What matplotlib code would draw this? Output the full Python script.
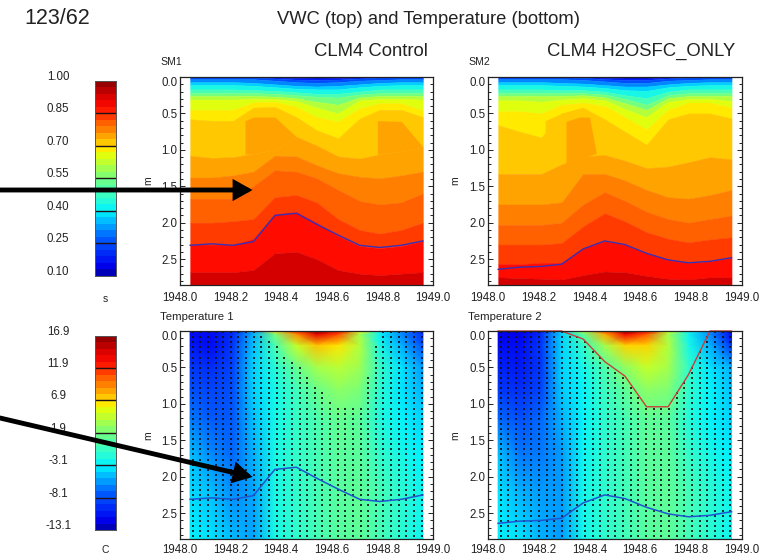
import numpy as np
import matplotlib
matplotlib.use("Agg")
import matplotlib.pyplot as plt
from matplotlib.colors import LinearSegmentedColormap, Normalize
from matplotlib.patches import FancyArrowPatch
from matplotlib.ticker import MultipleLocator

plt.rcParams['font.family'] = ['Liberation Sans', 'DejaVu Sans']
W, H = 776, 555
INK = '#222222'

# ---- shared coordinates ----
MONTHS = [1948.04, 1948.125, 1948.21, 1948.29, 1948.375, 1948.46,
          1948.54, 1948.625, 1948.71, 1948.79, 1948.875, 1948.96]
DEPTH_ROWS = [0.0, 0.05, 0.2, 0.5, 0.8, 1.2, 1.7, 2.2, 2.855]

# ---- soil moisture: depth where each level is reached, by month ----
SM_LEVELS = [0.16, 0.22, 0.28, 0.34, 0.40, 0.46, 0.52, 0.58, 0.64, 0.67,
             0.70, 0.73, 0.76, 0.79, 0.82, 0.85, 0.91]
S1_016 = [0, 0, 0, 0, .005, .015, .02, .015, .005, 0, 0, 0]
S1_022 = [0, 0, 0, .005, .02, .035, .04, .035, .02, .005, 0, 0]
S1_028 = [.03, .03, .03, .03, .05, .07, .08, .07, .05, .04, .03, .03]
S1_034 = [.07, .07, .07, .08, .10, .12, .13, .12, .10, .08, .07, .07]
S1_040 = [.11, .11, .11, .12, .14, .16, .17, .17, .14, .12, .11, .11]
S1_046 = [.17, .17, .17, .18, .19, .21, .23, .23, .20, .17, .17, .17]
S1_052 = [.22, .22, .22, .22, .23, .25, .27, .28, .24, .22, .22, .22]
S1_058 = [.26, .26, .26, .26, .27, .29, .34, .38, .28, .26, .26, .26]
S1_064 = [.31, .31, .31, .30, .30, .33, .42, .50, .32, .30, .30, .31]
S1_067 = [.45, .45, .45, .35, .34, .41, .55, .61, .43, .36, .36, .46]
S1_070 = [.58, .60, .60, .42, .41, .55, .73, .84, .57, .45, .45, .55]
S1_073 = [1.08, 1.11, 1.10, 1.05, 1.00, .82, .94, 1.09, 1.12, 1.06, 1.02, .96]
S1_076 = [1.38, 1.38, 1.35, 1.30, 1.08, 1.09, 1.21, 1.32, 1.37, 1.39, 1.35, 1.30]
S1_079 = [1.67, 1.67, 1.67, 1.50, 1.28, 1.30, 1.39, 1.55, 1.70, 1.75, 1.72, 1.60]
S1_082 = [2.00, 2.00, 1.98, 1.95, 1.65, 1.62, 1.72, 1.95, 2.10, 2.15, 2.10, 2.00]
S1_085 = [2.30, 2.30, 2.30, 2.22, 1.88, 1.85, 2.00, 2.18, 2.32, 2.35, 2.32, 2.25]
S1_091 = [2.68, 2.68, 2.68, 2.65, 2.42, 2.40, 2.50, 2.65, 2.70, 2.72, 2.70, 2.68]

S2_016 = [0, 0, 0, 0, 0, .01, .02, .02, .005, 0, 0, 0]
S2_022 = [0, 0, 0, .005, .01, .03, .04, .04, .02, .005, 0, 0]
S2_028 = [.03, .03, .03, .03, .04, .06, .08, .08, .05, .04, .03, .03]
S2_034 = [.07, .07, .07, .08, .09, .11, .13, .13, .10, .08, .07, .07]
S2_040 = [.11, .11, .11, .12, .13, .15, .18, .19, .14, .12, .11, .11]
S2_046 = [.17, .17, .17, .18, .18, .20, .25, .29, .20, .17, .17, .17]
S2_052 = [.22, .22, .22, .22, .22, .24, .30, .38, .25, .22, .22, .22]
S2_058 = [.26, .26, .26, .26, .25, .28, .36, .45, .29, .26, .26, .26]
S2_064 = [.32, .32, .34, .31, .29, .32, .44, .55, .34, .30, .30, .33]
S2_067 = [.47, .47, .50, .38, .35, .40, .55, .72, .45, .35, .35, .42]
S2_070 = [.66, .75, .83, .50, .42, .58, .75, .93, .58, .50, .50, .57]
S2_073 = [1.33, 1.33, 1.33, 1.20, 1.09, 1.07, 1.15, 1.25, 1.23, 1.17, 1.10, 1.13]
S2_076 = [1.75, 1.75, 1.75, 1.72, 1.33, 1.33, 1.42, 1.55, 1.65, 1.67, 1.62, 1.55]
S2_079 = [2.03, 2.03, 2.03, 2.00, 1.75, 1.58, 1.70, 1.85, 1.95, 2.00, 1.95, 1.90]
S2_082 = [2.30, 2.30, 2.30, 2.28, 2.05, 1.87, 1.98, 2.13, 2.22, 2.27, 2.23, 2.20]
S2_085 = [2.57, 2.57, 2.55, 2.55, 2.35, 2.25, 2.30, 2.42, 2.50, 2.55, 2.53, 2.48]
S2_091 = [2.75, 2.76, 2.77, 2.78, 2.72, 2.67, 2.68, 2.73, 2.77, 2.78, 2.75, 2.75]

SM1_BOUNDS = [S1_016, S1_022, S1_028, S1_034, S1_040, S1_046, S1_052, S1_058, S1_064,
              S1_067, S1_070, S1_073, S1_076, S1_079, S1_082, S1_085, S1_091]
SM2_BOUNDS = [S2_016, S2_022, S2_028, S2_034, S2_040, S2_046, S2_052, S2_058, S2_064,
              S2_067, S2_070, S2_073, S2_076, S2_079, S2_082, S2_085, S2_091]

# ---- patches of wetter soil with sharp sides: x, top depth, bottom depth, value ----
B1A_X = [1948.257, 1948.29, 1948.375, 1948.46]
B1A_TOP = [.60, .55, .55, .82]
B1A_BOT = [1.06, 1.05, 1.00, .82]
B1B_X = [1948.78, 1948.79, 1948.875, 1948.96]
B1B_TOP = [.60, .60, .61, .96]
B1B_BOT = [1.06, 1.06, 1.02, .96]
B2A_X = [1948.3075, 1948.36, 1948.40, 1948.426]
B2A_TOP = [.61, .55, .55, 1.03]
B2A_BOT = [1.20, 1.12, 1.08, 1.05]
B2B_X = [1948.225, 1948.29, 1948.375]
B2B_TOP = [.60, .50, .42]
B2B_BOT = [.85, .85, .85]
SM1_PATCHES = [(B1A_X, B1A_TOP, B1A_BOT, .745), (B1B_X, B1B_TOP, B1B_BOT, .745)]
SM2_PATCHES = [(B2B_X, B2B_TOP, B2B_BOT, .715), (B2A_X, B2A_TOP, B2A_BOT, .745)]

# ---- soil temperature by depth row ----
T1_D000 = [-11, -11, -10, -5.5, 6.9, 12, 16.5, 13, 6, -3, -6, -10]
T1_D005 = [-11, -11, -9.5, -5, 1.9, 9, 14, 11, 3.5, -3, -6, -9.5]
T1_D020 = [-10.5, -11, -9, -4.5, 0, 4.5, 7.5, 6.5, 4, -2.2, -5, -8]
T1_D050 = [-9, -9.5, -8.5, -4, -1.5, 1.2, 3.5, 4.2, 3.2, -.8, -3.5, -5.5]
T1_D080 = [-8, -8.5, -8, -4, -2.3, -.4, 1.5, 2.8, 2.2, -1.3, -3.5, -5]
T1_D120 = [-6.5, -7.5, -7.5, -4.5, -2.3, -.8, .1, 1.3, .9, -1.8, -3, -4]
T1_D170 = [-4.5, -6, -7, -5, -2.2, -1, -.2, .8, .8, -1, -2.2, -3.2]
T1_D220 = [-3.8, -4.6, -6, -5.3, -2, -1.1, -.2, .7, 1, -.2, -1.3, -2.5]
T1_D285 = [-3, -3.5, -4.7, -5.3, -2, -1.1, -.2, .7, 1, -.2, -1.3, -2.5]

T2_D000 = [-12, -12, -10, -4, 4, 11, 16.5, 13.5, 5, -2.5, -6, -11.5]
T2_D005 = [-11.5, -11.5, -9.5, -4, 1, 8, 13.5, 10.5, 3.5, -2.5, -6, -11]
T2_D020 = [-11, -11, -9, -4, -1, 3.5, 7, 7, 4, -2, -5, -9]
T2_D050 = [-10, -10.5, -9, -4, -2.3, .2, 2.8, 4.5, 3.5, -1, -3.5, -5]
T2_D080 = [-9, -9.5, -8.5, -4.2, -2.8, -.6, 1, 2.8, 2.3, -1, -3, -4.5]
T2_D120 = [-7, -8, -7, -5, -2.8, -1.2, -.2, 1, .8, -1.6, -3, -4]
T2_D170 = [-4.5, -6.5, -6.5, -5.5, -2.6, -1.2, -.3, .8, .9, -.8, -2.2, -3.2]
T2_D220 = [-3.5, -5, -5.5, -5.5, -2.3, -1.2, -.3, .7, 1, -.2, -1.3, -2.5]
T2_D285 = [-3, -3.5, -5, -5.5, -2.3, -1.2, -.3, .7, 1, -.2, -1.3, -2.5]

T1_GRID = [T1_D000, T1_D005, T1_D020, T1_D050, T1_D080, T1_D120, T1_D170, T1_D220, T1_D285]
T2_GRID = [T2_D000, T2_D005, T2_D020, T2_D050, T2_D080, T2_D120, T2_D170, T2_D220, T2_D285]

# ---- lines and masks ----
WT1 = [2.31, 2.29, 2.31, 2.26, 1.90, 1.87, 2.02, 2.17, 2.31, 2.34, 2.31, 2.25]
WT2 = [2.64, 2.61, 2.60, 2.57, 2.36, 2.25, 2.30, 2.42, 2.51, 2.55, 2.53, 2.48]
THAW1 = [0, 0, 0, 0, .20, .42, .75, 1.05, 1.05, 0, 0, 0]
THAW2 = [0, 0, 0, 0, .11, .42, .62, 1.04, 1.04, .60, 0, 0]

# ---- tick labels ----
X_TICKS = [1948.0, 1948.2, 1948.4, 1948.6, 1948.8, 1949.0]
Y_TICKS = [0.0, 0.5, 1.0, 1.5, 2.0, 2.5]
SM_CB_TICKS = [0.10, 0.25, 0.40, 0.55, 0.70, 0.85, 1.00]
T_CB_TICKS = [-13.1, -8.1, -3.1, 1.9, 6.9, 11.9, 16.9]

CMAP = LinearSegmentedColormap.from_list('rb', [
    (0.00, (0.00, 0.00, 0.62)), (0.05, (0.00, 0.00, 0.94)),
    (0.20, (0.00, 0.39, 1.00)), (0.33, (0.00, 0.95, 1.00)),
    (0.42, (0.24, 1.00, 0.75)), (0.50, (0.45, 1.00, 0.50)),
    (0.617, (0.88, 1.00, 0.05)), (0.65, (1.00, 0.92, 0.00)),
    (0.683, (1.00, 0.78, 0.00)), (0.717, (1.00, 0.64, 0.00)),
    (0.75, (1.00, 0.51, 0.00)), (0.783, (1.00, 0.38, 0.00)),
    (0.817, (1.00, 0.24, 0.00)), (0.867, (1.00, 0.04, 0.00)),
    (0.93, (0.83, 0.00, 0.00)), (1.00, (0.52, 0.00, 0.00))])


def make_axes(x0, y0, x1, y1):
    return fig.add_axes([x0 / W, 1 - y1 / H, (x1 - x0) / W, (y1 - y0) / H])


def style_panel(ax, xpad):
    ax.set_xlim(1948.0, 1949.0)
    ax.set_ylim(2.855, 0)
    ax.set_xticks(X_TICKS)
    ax.set_xticklabels([f'{v:.1f}' for v in X_TICKS], fontsize=8.3, color=INK)
    ax.set_yticks(Y_TICKS)
    ax.set_yticklabels([f'{v:.1f}' for v in Y_TICKS], fontsize=8.3, color=INK)
    ax.get_yticklabels()[0].set_va('top')
    ax.yaxis.set_minor_locator(MultipleLocator(0.1))
    ax.tick_params(axis='x', length=0, pad=xpad)
    ax.tick_params(axis='y', which='major', direction='in', length=3.6, width=0.7,
                   left=True, right=True, pad=2, color=INK)
    ax.tick_params(axis='y', which='minor', direction='in', length=1.9, width=0.7,
                   left=True, right=True, color=INK)
    for s in ax.spines.values():
        s.set_linewidth(0.9)
        s.set_color(INK)


def sm_panel(box, bounds, patches, wt):
    ax = make_axes(*box)
    norm = Normalize(0.10, 1.00)
    edges = [[0.0] * len(MONTHS)] + bounds + [[2.855] * len(MONTHS)]
    vals = [0.13] + [(a + b) / 2 for a, b in zip(SM_LEVELS[:-1], SM_LEVELS[1:])] + [0.935]
    for top, bot, v in zip(edges[:-1], edges[1:], vals):
        c = CMAP(norm(v))
        ax.fill_between(MONTHS, top, bot, color=c, lw=0.3)
    for x, top, bot, v in patches:
        ax.fill_between(x, top, bot, color=CMAP(norm(v)), lw=0)
    ax.plot(MONTHS, wt, color='#3a2fb5', lw=1.0)
    style_panel(ax, 5)
    return ax


def t_panel(box, grid, wt, thaw, red_line):
    ax = make_axes(*box)
    ax.pcolormesh(MONTHS, DEPTH_ROWS, np.array(grid), shading='gouraud', cmap=CMAP,
                  norm=Normalize(-13.1, 16.9))
    dot_x = np.linspace(MONTHS[0] + 0.01, MONTHS[-1] - 0.005, 31)
    dot_y = np.arange(0.015, 2.83, 0.07)
    xx, yy = np.meshgrid(dot_x, dot_y)
    keep = yy > np.interp(xx, MONTHS, thaw)
    ax.scatter(xx[keep], yy[keep], s=3.0, marker='s', color='#101018', lw=0, alpha=0.85)
    if red_line:
        ax.plot(MONTHS, thaw, color='#c8403c', lw=1.0, clip_on=False)
    ax.plot(MONTHS, wt, color='#1f55cf', lw=1.1)
    style_panel(ax, 3.4)
    return ax


def colorbar(box, ticks, label, fmt, label_y):
    ax = make_axes(*box)
    n = 30
    edges = np.linspace(ticks[0], ticks[-1], n + 1)
    mids = (edges[:-1] + edges[1:]) / 2
    ax.pcolormesh([0, 1], edges, mids[:, None], cmap=CMAP,
                  norm=Normalize(ticks[0], ticks[-1]))
    for t in ticks[1:-1]:
        ax.axhline(t, color='#201018', lw=1.0)
    ax.set_xticks([])
    ax.set_yticks([])
    for s in ax.spines.values():
        s.set_linewidth(0.7)
        s.set_color('#555555')
    for t in ticks:
        ax.annotate(fmt.format(t), xy=(0, t), xycoords=('axes fraction', 'data'),
                    xytext=(-26.4, 2.9), textcoords='offset points', ha='center',
                    va='center', fontsize=8.3, color=INK)
    fig.text(105 / W, 1 - label_y / H, label, ha='center', va='center',
             fontsize=7.5, color=INK)


def px_text(x, y, s, size, ha='left', rotation=0):
    fig.text(x / W, 1 - y / H, s, fontsize=size, ha=ha, va='center', color=INK,
             rotation=rotation)


def arrow(x0, y0, x1, y1):
    fig.add_artist(FancyArrowPatch(
        (x0 / W, 1 - y0 / H), (x1 / W, 1 - y1 / H), transform=fig.transFigure,
        arrowstyle='-|>,head_length=0.5,head_width=0.28', mutation_scale=18,
        lw=3.5, color='black', shrinkA=0, shrinkB=0, joinstyle='miter', zorder=10))


fig = plt.figure(figsize=(W / 100, H / 100), dpi=100)

colorbar((94.7, 81, 116, 275.7), SM_CB_TICKS, 's', '{:.2f}', 299)
colorbar((94.7, 335.7, 116, 530), T_CB_TICKS, 'C', '{:.1f}', 550)

sm_panel((180, 77, 433, 285), SM1_BOUNDS, SM1_PATCHES, WT1)
sm_panel((488, 77, 741.7, 285), SM2_BOUNDS, SM2_PATCHES, WT2)
t_panel((180, 331, 433, 539), T1_GRID, WT1, THAW1, False)
t_panel((488, 331, 741.7, 539), T2_GRID, WT2, THAW2, True)

px_text(24, 19, '123/62', 15.5)
px_text(428, 20, 'VWC (top) and Temperature (bottom)', 13.2, ha='center')
px_text(371, 51, 'CLM4 Control', 13.3, ha='center')
px_text(641, 51, 'CLM4 H2OSFC_ONLY', 13.3, ha='center')
px_text(160, 62, 'SM1', 7.6)
px_text(468, 62, 'SM2', 7.6)
px_text(160, 317, 'Temperature 1', 8.2)
px_text(468, 317, 'Temperature 2', 8.2)
for x, y in [(148, 181), (455, 181), (148, 436), (455, 436)]:
    px_text(x, y, 'm', 7.5, ha='center', rotation=90)

arrow(0, 190, 252.5, 190)
arrow(0, 418, 252.5, 477)

fig.savefig('out.png', dpi=100)
